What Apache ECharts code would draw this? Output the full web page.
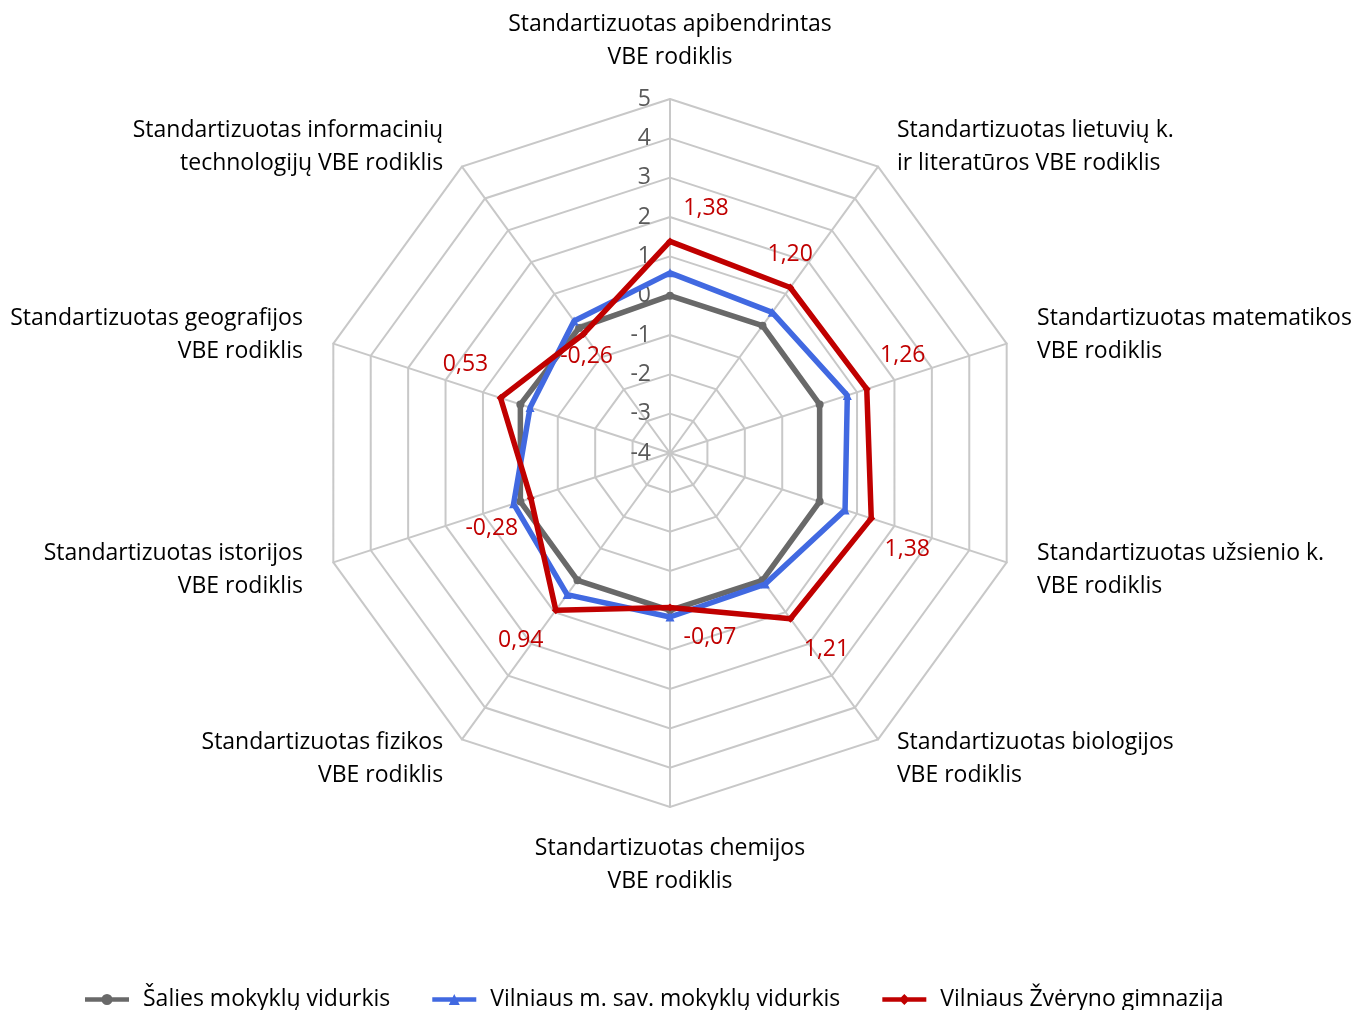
<!DOCTYPE html>
<html>
<head>
<meta charset="utf-8">
<script src="https://cdn.jsdelivr.net/npm/echarts@6/dist/echarts.min.js"></script>
<style>
html,body{margin:0;padding:0;background:#fff;}
#c{width:1355px;height:1010px;}
</style>
</head>
<body>
<div id="c"></div>
<script>
// ---- data (reference order, clockwise from top) ----
const indicatorNames = [
  'Standartizuotas apibendrintas\nVBE rodiklis',
  'Standartizuotas lietuvių k.\nir literatūros VBE rodiklis',
  'Standartizuotas matematikos\nVBE rodiklis',
  'Standartizuotas užsienio k.\nVBE rodiklis',
  'Standartizuotas biologijos\nVBE rodiklis',
  'Standartizuotas chemijos\nVBE rodiklis',
  'Standartizuotas fizikos\nVBE rodiklis',
  'Standartizuotas istorijos\nVBE rodiklis',
  'Standartizuotas geografijos\nVBE rodiklis',
  'Standartizuotas informacinių\ntechnologijų VBE rodiklis'
];
const seriesNames = ['Šalies mokyklų vidurkis', 'Vilniaus m. sav. mokyklų vidurkis', 'Vilniaus Žvėryno gimnazija'];
const saliesValues   = [0, 0, 0, 0, 0, 0, 0, 0, 0, -0.07];
const vilniausValues = [0.58, 0.42, 0.74, 0.68, 0.12, 0.17, 0.45, 0.18, -0.26, 0.15];
const zverynoValues  = [1.38, 1.20, 1.26, 1.38, 1.21, -0.07, 0.94, -0.28, 0.53, -0.26];
const axisMin = -4, axisMax = 5;

// ---- styling / layout ----
const FONT = '"Open Sans", "Noto Sans", sans-serif';
const FS = 23;
const colors = ['#696969', '#4169e1', '#c00000'];
const symbols = ['circle', 'triangle', 'diamond'];
const labelOffsets = [[36,-33],[0,-33],[36,-34],[36,31],[36,31],[40,30],[-35,30],[-39,30],[-35,-33],[3,22]];
// per-indicator name tweaks (reference order)
const nameGaps = [25, 32, 32, 32, 32, 25, 32, 32, 32, 32];
const nameShifts = [0, 6, 1.5, -2.5, -6.5, 0, -6.5, -2.5, 1.5, 6]; // px, + = down

const n = indicatorNames.length;
// ECharts radar runs counter-clockwise; reorder so display goes clockwise
const toDisplay = arr => arr.map((_, j) => arr[(n - j) % n]);
const dispIndexOf = k => (n - k) % n;
const fmt = v => v.toFixed(2).replace('.', ',');

const nameRich = { a: { color: '#000', fontSize: FS, fontFamily: FONT, lineHeight: 33 } };
nameShifts.forEach((s, k) => { nameRich['s' + k] = { fontSize: 1, lineHeight: Math.abs(s) * 2 }; });

const indicators = indicatorNames.map((name, k) => ({
  name: name, min: axisMin, max: axisMax, nameGap: nameGaps[k]
}));
const dispIndicators = toDisplay(indicators);
dispIndicators[0].axisLabel = { show: true };

const legendIcons = [
  'path://M0,3.5L48,3.5L48,8.5L0,8.5Z M18,6A6,6 0 1,1 30,6A6,6 0 1,1 18,6Z',
  'path://M0,3.5L48,3.5L48,8.5L0,8.5Z M24,0L30,12L18,12Z',
  'path://M0,3.5L48,3.5L48,8.5L0,8.5Z M24,0L30,6L24,12L18,6Z'
];

const mainSeries = [saliesValues, vilniausValues, zverynoValues].map((vals, i) => ({
  type: 'radar',
  name: seriesNames[i],
  symbol: symbols[i],
  symbolSize: i === 1 ? 9 : 8,
  z: 2 + i,
  lineStyle: { color: colors[i], width: 5.5 },
  itemStyle: { color: colors[i] },
  label: { show: false },
  data: [{ value: toDisplay(vals), name: seriesNames[i] }]
}));

const labelSeries = zverynoValues.map((v, k) => ({
  type: 'radar',
  name: '_lbl' + k,
  silent: true,
  symbol: 'circle',
  symbolSize: 1,
  z: 10,
  lineStyle: { width: 0, opacity: 0 },
  itemStyle: { color: 'rgba(0,0,0,0)' },
  label: {
    show: true,
    position: 'inside',
    offset: labelOffsets[k],
    color: '#c00000',
    fontSize: FS,
    fontFamily: FONT,
    formatter: p => (p.dimensionIndex === dispIndexOf(k) ? fmt(zverynoValues[k]) : '')
  },
  data: [{ value: toDisplay(zverynoValues) }]
}));

const chart = echarts.init(document.getElementById('c'));
chart.setOption({
  backgroundColor: '#fff',
  animation: false,
  legend: {
    left: 80,
    top: 983,
    itemWidth: 46,
    itemHeight: 11,
    itemGap: 42,
    textStyle: { fontSize: FS, fontFamily: FONT, color: '#000', padding: [0, 0, 0, 8] },
    data: seriesNames.map((nm, i) => ({ name: nm, icon: legendIcons[i], itemStyle: { color: colors[i] } }))
  },
  radar: {
    center: [670, 453],
    radius: 354,
    startAngle: 90,
    splitNumber: 9,
    shape: 'polygon',
    nameGap: 32,
    axisName: {
      color: '#000', fontSize: FS, fontFamily: FONT, lineHeight: 33,
      rich: nameRich,
      formatter: name => {
        const k = indicatorNames.indexOf(name);
        const s = nameShifts[k] || 0;
        const body = name.split('\n').map(l => '{a|' + l + '}').join('\n');
        if (s > 0) return '{s' + k + '| }\n' + body;
        if (s < 0) return body + '\n{s' + k + '| }';
        return body;
      }
    },
    axisLine: { show: true, lineStyle: { color: '#c8c8c8', width: 2 } },
    splitLine: { show: true, lineStyle: { color: '#c8c8c8', width: 2 } },
    splitArea: { show: false },
    axisTick: { show: false },
    axisLabel: { show: false, color: '#595959', fontSize: FS, fontFamily: FONT, margin: 19 },
    indicator: dispIndicators
  },
  series: mainSeries.concat(labelSeries)
});
</script>
</body>
</html>
